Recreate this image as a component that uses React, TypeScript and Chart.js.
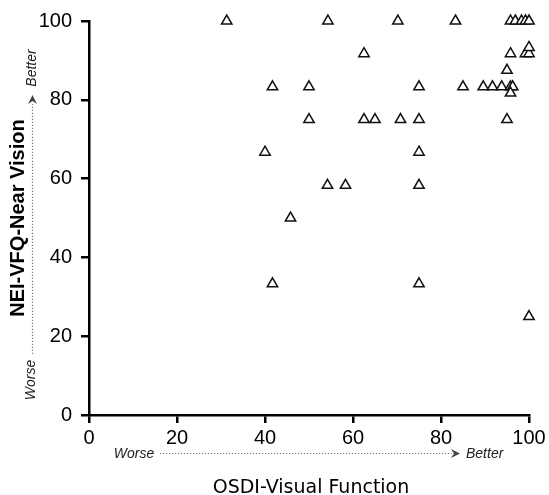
import { useEffect, useRef } from "react";
import { Chart, registerables } from "chart.js";

Chart.register(...registerables);

// OSDI-Visual Function score (x) and NEI-VFQ-Near Vision score (y) per patient
const osdiVisual = [
  31.3, 54.3, 70.2, 83.3, 95.8, 96.9, 98.3, 99.2, 100,
  62.5, 95.8, 99.2, 100, 100,
  95,
  41.7, 50, 75, 85, 89.6, 91.7, 93.8, 95.8, 96.3, 95.8,
  50, 62.5, 65, 70.8, 75, 95,
  40, 75,
  54.2, 58.3, 75,
  45.8,
  41.7, 75,
  100,
];
const neiNear = [
  100, 100, 100, 100, 100, 100, 100, 100, 100,
  91.7, 91.7, 91.7, 91.7, 93.3,
  87.5,
  83.3, 83.3, 83.3, 83.3, 83.3, 83.3, 83.3, 83.3, 83.3, 81.7,
  75, 75, 75, 75, 75, 75,
  66.7, 66.7,
  58.3, 58.3, 58.3,
  50,
  33.3, 33.3,
  25,
];
const xTickValues = [0, 20, 40, 60, 80, 100];
const yTickValues = [0, 20, 40, 60, 80, 100];
const xTitle = "OSDI-Visual Function";
const yTitle = "NEI-VFQ-Near Vision";
const worseLabel = "Worse";
const betterLabel = "Better";

function drawArrowHead(ctx: CanvasRenderingContext2D, x: number, y: number, dir: "right" | "up") {
  ctx.save();
  ctx.translate(x, y);
  if (dir === "up") ctx.rotate(-Math.PI / 2);
  ctx.beginPath();
  ctx.moveTo(0, 0);
  ctx.lineTo(-9, -4.5);
  ctx.lineTo(-6, 0);
  ctx.lineTo(-9, 4.5);
  ctx.closePath();
  ctx.fillStyle = "#444";
  ctx.fill();
  ctx.restore();
}

const annotationPlugin = {
  id: "axisAnnotations",
  afterDraw(chart: any) {
    const ctx: CanvasRenderingContext2D = chart.ctx;
    ctx.save();
    // Y title
    ctx.save();
    ctx.translate(18, 218);
    ctx.rotate(-Math.PI / 2);
    ctx.font = "bold 20px 'Liberation Sans', Arial, sans-serif";
    ctx.fillStyle = "#000";
    ctx.textAlign = "center";
    ctx.textBaseline = "middle";
    ctx.fillText(yTitle, 0, 0);
    ctx.restore();

    // X title
    ctx.font = "19px 'DejaVu Sans', Verdana, sans-serif";
    ctx.fillStyle = "#000";
    ctx.textAlign = "center";
    ctx.textBaseline = "alphabetic";
    ctx.fillText(xTitle, 311, 493);

    // X worse -> better
    ctx.font = "italic 14px 'Liberation Sans', Arial, sans-serif";
    ctx.fillStyle = "#222";
    ctx.textAlign = "center";
    ctx.textBaseline = "middle";
    ctx.fillText(worseLabel, 134, 454);
    ctx.textAlign = "left";
    ctx.fillText(betterLabel, 466, 454);
    ctx.strokeStyle = "#777";
    ctx.lineWidth = 1.2;
    ctx.setLineDash([1.2, 1.8]);
    ctx.beginPath();
    ctx.moveTo(160, 453.5);
    ctx.lineTo(452, 453.5);
    ctx.stroke();
    ctx.setLineDash([]);
    drawArrowHead(ctx, 460, 453.5, "right");

    // Y worse -> better
    ctx.save();
    ctx.translate(31, 380);
    ctx.rotate(-Math.PI / 2);
    ctx.textAlign = "center";
    ctx.fillText(worseLabel, 0, 0);
    ctx.restore();
    ctx.save();
    ctx.translate(32, 68);
    ctx.rotate(-Math.PI / 2);
    ctx.textAlign = "center";
    ctx.fillText(betterLabel, 0, 0);
    ctx.restore();
    ctx.strokeStyle = "#777";
    ctx.setLineDash([1.2, 1.8]);
    ctx.beginPath();
    ctx.moveTo(32.5, 354);
    ctx.lineTo(32.5, 104);
    ctx.stroke();
    ctx.setLineDash([]);
    drawArrowHead(ctx, 32.5, 95, "up");
    ctx.restore();
  },
};

export default function App() {
  const canvasRef = useRef<HTMLCanvasElement | null>(null);

  useEffect(() => {
    const canvas = canvasRef.current;
    if (!canvas) return;
    const points = osdiVisual.map((x, i) => ({ x, y: neiNear[i] }));
    const tickFont = { family: "'Liberation Sans', Arial, sans-serif", size: 20 };
    const chart = new Chart(canvas, {
      type: "scatter",
      data: {
        datasets: [
          {
            data: points,
            pointStyle: "triangle",
            pointRadius: 6,
            pointHoverRadius: 6,
            pointBorderWidth: 1.5,
            borderColor: "#111",
            backgroundColor: "#fff",
            clip: false,
          } as any,
        ],
      },
      options: {
        responsive: false,
        animation: false,
        devicePixelRatio: 1,
        layout: { padding: { top: 21, right: 20, left: 0, bottom: 0 } },
        plugins: { legend: { display: false }, tooltip: { enabled: false } },
        scales: {
          x: {
            type: "linear",
            min: 0,
            max: 100,
            afterBuildTicks: (s: any) => {
              s.ticks = xTickValues.map((v) => ({ value: v }));
            },
            afterFit: (s: any) => {
              s.height = 80;
            },
            ticks: { font: tickFont, color: "#000", padding: 3 },
            grid: {
              drawOnChartArea: false,
              drawTicks: true,
              tickLength: 8,
              color: "#000",
              lineWidth: 2.5,
            },
            border: { display: true, color: "#000", width: 2.5 },
          },
          y: {
            type: "linear",
            min: 0,
            max: 100,
            afterBuildTicks: (s: any) => {
              s.ticks = yTickValues.map((v) => ({ value: v }));
            },
            afterFit: (s: any) => {
              s.width = 89;
            },
            ticks: { font: tickFont, color: "#000", padding: 9 },
            grid: {
              drawOnChartArea: false,
              drawTicks: true,
              tickLength: 8,
              color: "#000",
              lineWidth: 2.5,
            },
            border: { display: true, color: "#000", width: 2.5 },
          },
        },
      },
      plugins: [annotationPlugin],
    });
    return () => chart.destroy();
  }, []);

  return (
    <div style={{ position: "absolute", left: 0, top: 0, width: 549, height: 495, background: "#fff" }}>
      <canvas ref={canvasRef} width={549} height={495} />
    </div>
  );
}
